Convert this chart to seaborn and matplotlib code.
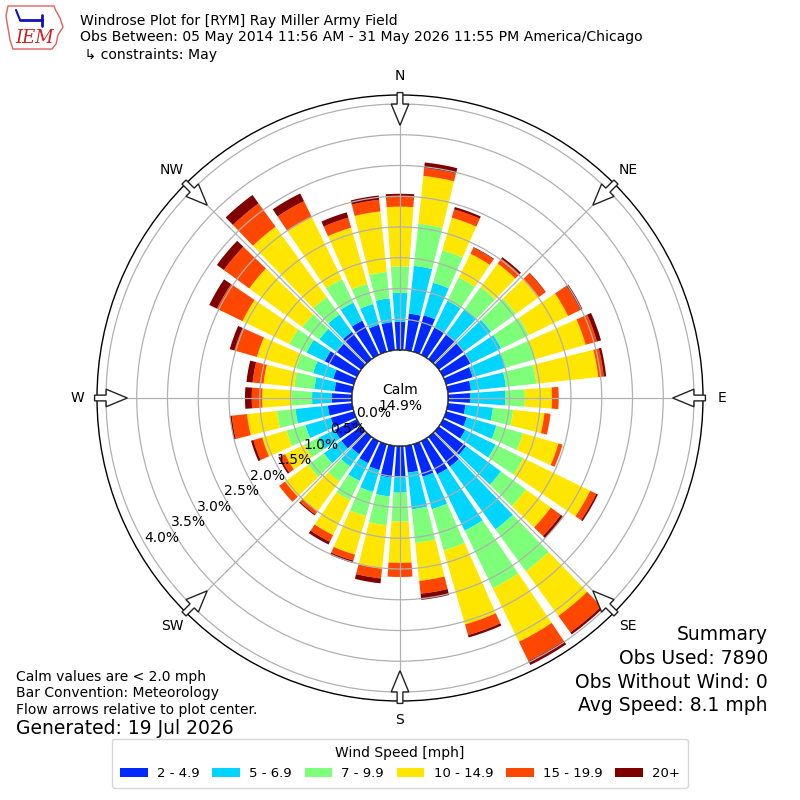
import numpy as np
import matplotlib
matplotlib.use("Agg")
import matplotlib.pyplot as plt
from matplotlib.patches import FancyArrow, Circle, Polygon, Patch
import seaborn as sns

# ---------------- data (percent of observations) ----------------
directions = np.arange(0, 360, 10)
speed_labels = ["2 - 4.9", "5 - 6.9", "7 - 9.9", "10 - 14.9", "15 - 19.9", "20+"]
spd_2_5 = [0.46, 0.60, 0.62, 0.50, 0.50, 0.50, 0.50, 0.45, 0.38, 0.36,
           0.29, 0.35, 0.40, 0.55, 0.60, 0.60, 0.55, 0.44, 0.50, 0.52,
           0.44, 0.40, 0.35, 0.40, 0.40, 0.39, 0.40, 0.33, 0.29, 0.35,
           0.58, 0.49, 0.55, 0.62, 0.46, 0.46]
spd_5_7 = [0.47, 0.78, 0.55, 0.48, 0.50, 0.55, 0.55, 0.55, 0.57, 0.57,
           0.45, 0.50, 0.55, 0.70, 1.26, 1.02, 0.55, 0.60, 0.26, 0.31,
           0.37, 0.32, 0.25, 0.35, 0.30, 0.43, 0.53, 0.32, 0.33, 0.34,
           0.33, 0.35, 0.35, 0.33, 0.35, 0.39]
spd_7_10 = [0.43, 0.69, 0.55, 0.42, 0.45, 0.50, 0.50, 0.50, 0.50, 0.32,
            0.33, 0.45, 0.50, 0.50, 0.84, 1.04, 0.70, 0.55, 0.47, 0.47,
            0.41, 0.35, 0.30, 0.32, 0.25, 0.32, 0.30, 0.33, 0.33, 0.29,
            0.31, 0.34, 0.35, 0.42, 0.34, 0.43]
spd_10_15 = [0.97, 0.78, 0.55, 0.43, 0.47, 0.46, 0.71, 0.86, 1.01, 0.44,
             0.51, 0.60, 1.21, 0.50, 0.90, 0.97, 1.25, 0.62, 0.67, 0.71,
             0.65, 0.63, 0.60, 0.46, 0.35, 0.41, 0.49, 0.48, 0.50, 0.66,
             0.85, 1.07, 1.41, 1.12, 0.95, 0.99]
spd_15_20 = [0.17, 0.13, 0.14, 0.11, 0.10, 0.13, 0.22, 0.19, 0.09, 0.11,
             0.10, 0.07, 0.11, 0.20, 0.33, 0.35, 0.18, 0.21, 0.23, 0.16,
             0.10, 0.12, 0.06, 0.12, 0.09, 0.15, 0.25, 0.17, 0.18, 0.38,
             0.46, 0.51, 0.47, 0.29, 0.17, 0.19]
spd_20p = [0.04, 0.09, 0.04, 0.01, 0.03, 0.01, 0.04, 0.07, 0.04, 0.00,
           0.00, 0.00, 0.03, 0.05, 0.04, 0.07, 0.04, 0.10, 0.00, 0.08,
           0.04, 0.05, 0.02, 0.00, 0.03, 0.04, 0.03, 0.11, 0.10, 0.08,
           0.14, 0.14, 0.17, 0.14, 0.09, 0.07]
calm_pct = 14.9
radial_ticks = [0.0, 0.5, 1.0, 1.5, 2.0, 2.5, 3.0, 3.5, 4.0]
compass_angles = [0, 45, 90, 135, 180, 225, 270, 315]
compass_labels = ["N", "NE", "E", "SE", "S", "SW", "W", "NW"]

title_lines = ["Windrose Plot for [RYM] Ray Miller Army Field",
               "Obs Between: 05 May 2014 11:56 AM - 31 May 2026 11:55 PM America/Chicago",
               " \u21b3 constraints: May"]
left_notes = ["Calm values are < 2.0 mph", "Bar Convention: Meteorology",
              "Flow arrows relative to plot center."]
generated = "Generated: 19 Jul 2026"
summary = ["Summary", "Obs Used: 7890", "Obs Without Wind: 0", "Avg Speed: 8.1 mph"]

# ---------------- style ----------------
sns.set_style("white")
plt.rcParams['font.family'] = ['DejaVu Sans']
plt.rcParams['text.color'] = 'black'
plt.rcParams['xtick.color'] = 'black'
plt.rcParams['ytick.color'] = 'black'
plt.rcParams['axes.edgecolor'] = 'black'
cmap = plt.get_cmap("jet")
palette = sns.color_palette([cmap(v) for v in np.linspace(0, 1, 7)[1:]])

fig = plt.figure(figsize=(8, 8), dpi=100)
ax = fig.add_axes([0.12125, 0.12375, 0.7575, 0.7575], projection='polar')
ax.set_theta_zero_location('N')
ax.set_theta_direction(-1)
ax.set_rorigin(-0.78)
ax.set_ylim(0, 4.146)

theta = np.deg2rad(directions)
width = np.deg2rad(8)
series = [spd_2_5, spd_5_7, spd_7_10, spd_10_15, spd_15_20, spd_20p]
bottom = np.zeros(len(directions))
for vals, col in zip(series, palette):
    vals = np.asarray(vals)
    ax.bar(theta, vals, width=width, bottom=bottom, color=col, linewidth=0,
           align='center', zorder=1)
    bottom = bottom + vals

ax.set_axisbelow(False)
ax.set_yticks(radial_ticks)
ax.set_yticklabels([])
ax.set_xticks(np.deg2rad(compass_angles))
ax.set_xticklabels(compass_labels, fontsize=10, color='black')
ax.tick_params(axis='x', pad=3.5)
ax.grid(True, color='#b0b0b0', linewidth=0.9)
ax.spines['polar'].set_linewidth(1.0)
ax.spines['polar'].set_color('black')

# calm circle
ax.add_patch(Circle((0.5, 0.5), 48 / 606, transform=ax.transAxes,
                    facecolor='white', edgecolor='black', linewidth=1.0, zorder=5))
ax.text(0.5, 0.5, f"Calm\n{calm_pct:.1f}%", transform=ax.transAxes,
        ha='center', va='center', fontsize=10, zorder=6)

# radial labels
lab_ang = np.deg2rad(239.6)
for v in radial_ticks:
    ax.text(lab_ang, v - 0.285, f"{v:.1f}%", ha='center', va='center',
            fontsize=10, zorder=7)

# flow arrows
for ang in compass_angles:
    a = np.deg2rad(ang)
    sx, sy = 0.5 + 0.504 * np.sin(a), 0.5 + 0.504 * np.cos(a)
    L = 0.054
    ax.add_patch(FancyArrow(sx, sy, -L * np.sin(a), -L * np.cos(a),
                            width=0.0095, head_width=0.029, head_length=0.035,
                            length_includes_head=True, transform=ax.transAxes,
                            facecolor='white', edgecolor='#222222', linewidth=1.0,
                            clip_on=False, zorder=8))

# header
for i, line in enumerate(title_lines):
    fig.text(80 / 800, 1 - (20.5 + 17 * i) / 800, line, fontsize=10.1, va='center', ha='left')

# simple IEM logo
logo_px = [(8, 6), (54, 6), (56, 11), (60, 18), (63, 27), (58, 35), (56, 44),
           (52, 49), (13, 49), (10, 40), (8, 28), (6, 16)]
fig.patches.append(Polygon([(x / 800, 1 - y / 800) for x, y in logo_px], closed=True,
                           transform=fig.transFigure, facecolor='white',
                           edgecolor='#e06060', linewidth=1.0))
fig.text(35 / 800, 1 - 38 / 800, "IEM", color='#d02020', fontsize=13, style='italic',
         family='DejaVu Serif', ha='center', va='center')
fig.lines.append(plt.Line2D([20 / 800, 42 / 800], [1 - 20 / 800, 1 - 20 / 800],
                            transform=fig.transFigure, color='#1010c0', lw=2))
fig.lines.append(plt.Line2D([42 / 800, 42 / 800], [1 - 15 / 800, 1 - 26 / 800],
                            transform=fig.transFigure, color='#1010c0', lw=2))
fig.lines.append(plt.Line2D([20 / 800, 16 / 800], [1 - 20 / 800, 1 - 10 / 800],
                            transform=fig.transFigure, color='#1010c0', lw=1.5))

# bottom-left notes
for i, line in enumerate(left_notes):
    fig.text(16 / 800, 1 - (677 + 16.5 * i) / 800, line, fontsize=10, va='center', ha='left')
fig.text(16 / 800, 1 - 729 / 800, generated, fontsize=13.5, va='center', ha='left')

# summary
for i, line in enumerate(summary):
    fig.text(768 / 800, 1 - (635 + 23.5 * i) / 800, line, fontsize=13.5, va='center', ha='right')

# legend
handles = [Patch(facecolor=c, edgecolor='none') for c in palette]
fig.legend(handles, speed_labels, loc='lower center', bbox_to_anchor=(0.5, 0.015),
           borderaxespad=0.0, borderpad=0.6, ncol=6, title="Wind Speed [mph]",
           fontsize=9.5, title_fontsize=10, handlelength=2.1, handleheight=0.6,
           handletextpad=0.7, columnspacing=0.96, frameon=True)

fig.savefig("out.png", dpi=100)
